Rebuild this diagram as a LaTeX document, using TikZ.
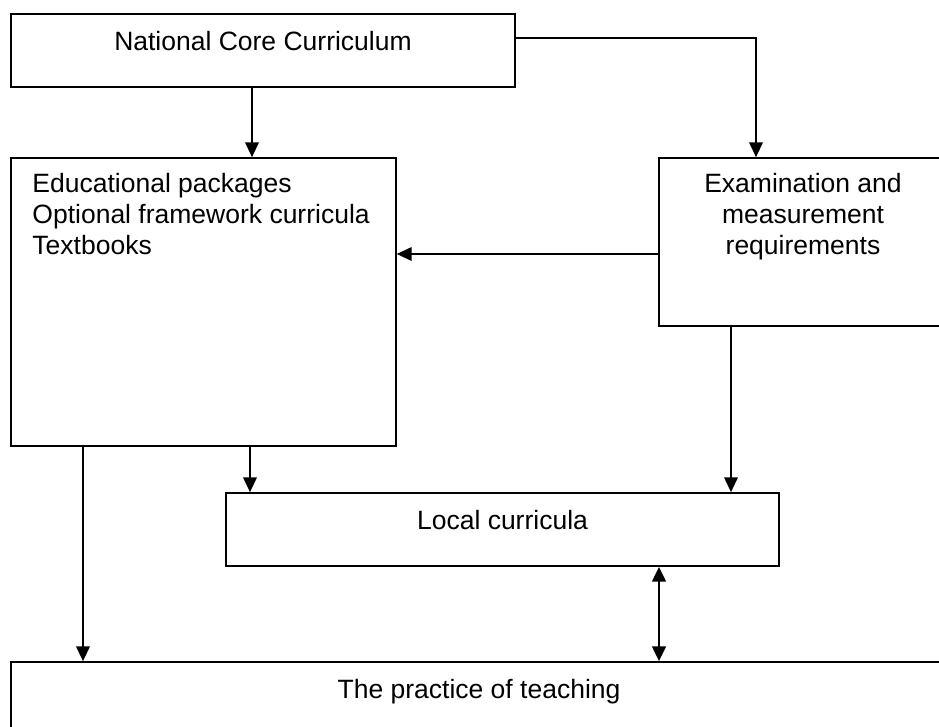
\documentclass[tikz,border=0pt]{standalone}
\usepackage{fontspec}
\setmainfont{Liberation Sans}
\usepackage{tikz}
\usetikzlibrary{arrows.meta, positioning, calc}

\begin{document}
\begin{tikzpicture}[
  box/.style={rectangle, draw=black, line width=1.2pt, inner sep=0pt},
  linebox/.style={box, text height=0.9cm, text depth=0.925cm,
    font=\fontsize{18.85pt}{22pt}\selectfont},
  txt/.style={inner sep=0pt, font=\fontsize{18.85pt}{22pt}\selectfont},
  flow/.style={-{Triangle[length=3.7mm,width=3.4mm]}, line width=1.2pt},
  both/.style={{Triangle[length=3.7mm,width=3.4mm]}-{Triangle[length=3.7mm,width=3.4mm]}, line width=1.8pt}
]
\useasboundingbox (0,0) rectangle (23.475,-18.15);

\node[linebox, minimum width=12.6cm] (core) at (6.575,-1.2625) {National Core Curriculum};
\node[box, minimum width=9.625cm, minimum height=7.2cm] (packages) at (5.0875,-7.55) {};
\node[box, minimum width=7.2cm, minimum height=4.2cm] (exams) at (20.075,-6.05) {};
\node[linebox, minimum width=13.825cm] (local) at (12.5625,-13.2375) {Local curricula};
\node[linebox, minimum width=23.4cm] (practice) at (11.975,-17.4625) {The practice of teaching};

% box texts
\node[txt, anchor=north west, align=left] (packagestxt) at ([xshift=0.55cm,yshift=-0.4cm]packages.north west)
  {Educational packages\\Optional framework curricula\\Textbooks};
\node[txt, anchor=north, align=center] (examstxt) at ([yshift=-0.4cm]exams.north)
  {Examination and\\measurement\\requirements};

% connectors
\draw[flow] ([xshift=-0.275cm]core.south) -- ([xshift=-0.275cm]core.south |- packages.north);
\draw[flow] ([yshift=0.3125cm]core.east) -| ([xshift=-1.175cm]exams.north);
\draw[flow] ([yshift=-0.3cm]exams.west) -- ([yshift=-0.3cm]exams.west -| packages.east);
\draw[flow] ([xshift=-3.0125cm]packages.south) -- ([xshift=-3.0125cm]packages.south |- practice.north);
\draw[flow] ([xshift=1.1625cm]packages.south) -- ([xshift=1.1625cm]packages.south |- local.north);
\draw[flow] ([xshift=-1.8cm]exams.south) -- ([xshift=-1.8cm]exams.south |- local.north);
\draw[both] ([xshift=3.9125cm]local.south) -- ([xshift=3.9125cm]local.south |- practice.north);

\end{tikzpicture}
\end{document}
